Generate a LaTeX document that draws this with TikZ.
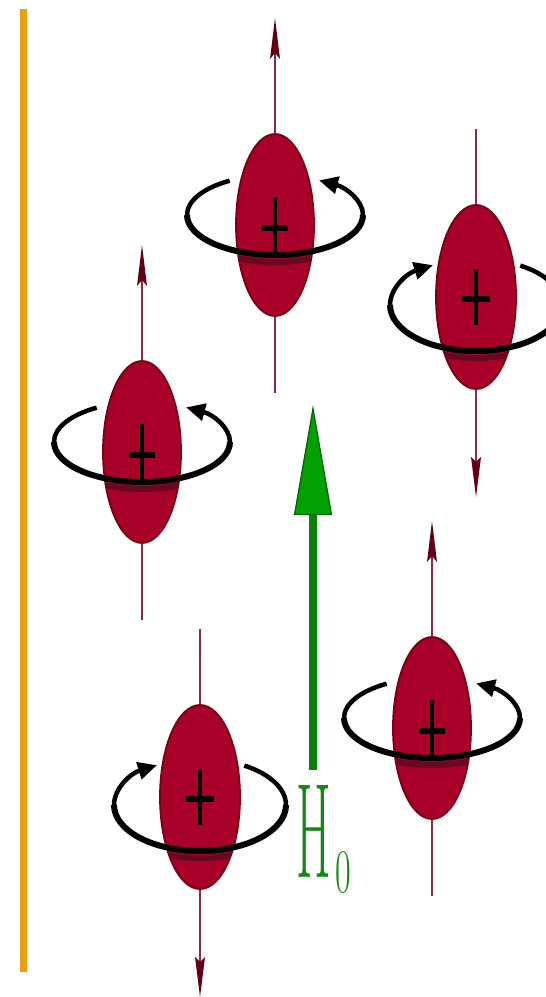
\documentclass[tikz,border=0pt]{standalone}
\usepackage{fontspec}
\usetikzlibrary{arrows.meta}

\definecolor{spinred}{RGB}{168,0,40}
\definecolor{spinedge}{RGB}{120,0,16}
\definecolor{spinshade}{RGB}{105,8,30}
\definecolor{axisred}{RGB}{140,40,72}
\definecolor{axistipred}{RGB}{100,0,20}
\definecolor{fieldgreen}{RGB}{0,160,0}
\definecolor{fielddark}{RGB}{0,100,0}
\definecolor{fieldshaft}{RGB}{10,130,10}
\definecolor{labelgreen}{RGB}{20,135,20}
\definecolor{wallorange}{RGB}{232,160,16}

\tikzset{
  spinbody/.style={fill=spinred, draw=spinedge, line width=1.8pt},
  axisline/.style={draw=axisred, line width=2.8pt},
  axistip/.style={fill=axistipred},
  looppath/.style={draw=black, line width=4.5pt},
  loopfront/.style={draw=black, line width=6pt},
  shadeband/.style={draw=spinshade, line width=6pt},
  crossbar/.style={draw=black, line width=3.5pt},
  spinarrow/.style={-{Triangle[length=19pt,width=17pt]}},
  fieldarrow/.style={draw=fieldshaft, line width=8.5pt,
    -{Triangle[length=110pt,width=38pt,line width=1.2pt,color=fielddark,fill=fieldgreen]}},
  wall/.style={draw=wallorange, line width=7pt},
  % nucleus whose moment points up; precession arrow on the right
  pics/spinup/.style={code={
    \draw[axisline] (0,-168) -- (0,172);
    \path[axistip] (0,207) -- (5,166) -- (0,172) -- (-5,166) -- cycle;
    \draw[looppath, spinarrow] (88,10) arc[start angle=0, end angle=60, x radius=88, y radius=40];
    \draw[looppath] (-88,10) arc[start angle=180, end angle=121, x radius=88, y radius=40];
    \path[spinbody] (0,0) ellipse[x radius=39, y radius=91];
    \begin{scope}
      \clip (0,0) ellipse[x radius=38, y radius=90];
      \draw[shadeband] (88,3) arc[start angle=0, end angle=-180, x radius=88, y radius=40];
    \end{scope}
    \draw[loopfront] (88,10) arc[start angle=0, end angle=-180, x radius=88, y radius=40];
    \draw[crossbar] (0,-28) -- (0,28);
    \fill[black] (-13,-6) rectangle (13,0);
  }},
  % nucleus whose moment points down; precession arrow on the left
  pics/spindown/.style={code={
    \draw[axisline] (0,168) -- (0,-165);
    \path[axistip] (0,-200) -- (5,-160) -- (0,-165) -- (-5,-160) -- cycle;
    \draw[looppath, spinarrow] (-86,-8) arc[start angle=180, end angle=120, x radius=86, y radius=46];
    \draw[looppath] (86,-8) arc[start angle=0, end angle=59, x radius=86, y radius=46];
    \path[spinbody] (0,0) ellipse[x radius=40, y radius=92];
    \begin{scope}
      \clip (0,0) ellipse[x radius=39, y radius=91];
      \draw[shadeband] (86,-15) arc[start angle=0, end angle=-180, x radius=86, y radius=46];
    \end{scope}
    \draw[loopfront] (86,-8) arc[start angle=0, end angle=-180, x radius=86, y radius=46];
    \draw[crossbar] (0,-28) -- (0,28);
    \fill[black] (-14,-5) rectangle (14,1);
  }},
}

\begin{document}
\begin{tikzpicture}[x=1pt, y=1pt]
  \useasboundingbox (0,0) rectangle (546,997);

  % sample wall
  \draw[wall] (23,988) -- (23,25);

  % precessing nuclei
  \pic at (275,772) {spinup};
  \pic at (476,700) {spindown};
  \pic at (142,545) {spinup};
  \pic at (200,200) {spindown};
  \pic at (432,269) {spinup};

  % applied static field
  \coordinate (fieldbase) at (313,227);
  \coordinate (fieldtip) at (313,592);
  \draw[fieldarrow] (fieldbase) -- (fieldtip);

  \node[text=labelgreen, inner sep=0pt, xscale=0.37,
        font=\fontsize{135}{135}\selectfont] (hlabel) at (313.5,166) {H};
  \node[text=labelgreen, inner sep=0pt, xscale=0.55,
        font=\fontsize{62}{62}\selectfont] (hsub) at (343.5,124) {0};
\end{tikzpicture}
\end{document}
